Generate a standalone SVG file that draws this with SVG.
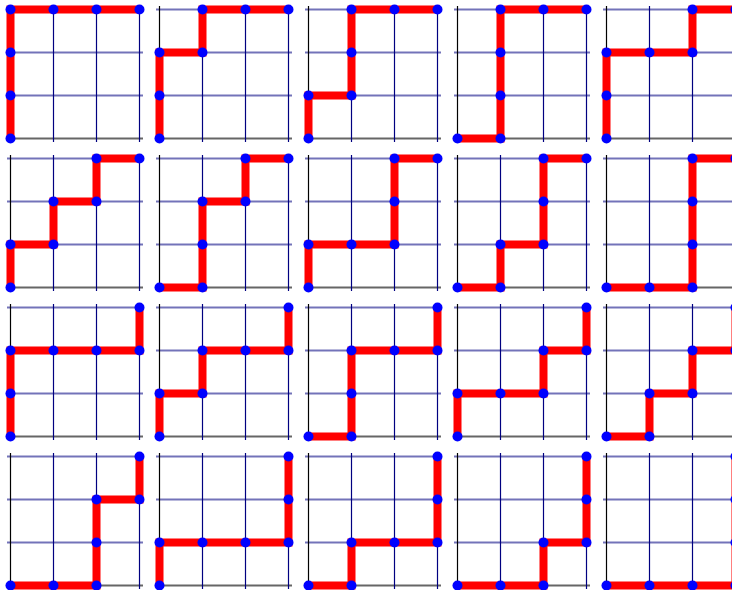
<svg xmlns="http://www.w3.org/2000/svg" xmlns:xlink="http://www.w3.org/1999/xlink" width="732" height="590" viewBox="0 0 732 590">
<style>
.h{stroke:#000080;stroke-opacity:0.55;stroke-width:2}
.hb{stroke:#666666;stroke-width:2}
.v{stroke:#000080;stroke-width:1.2}
.v0{stroke:#000000;stroke-width:1.2}
.p{fill:none;stroke:#ff0000;stroke-width:8;stroke-linejoin:miter}
.d{fill:#0000ff}
</style>
<defs>
<g id="grid">
<line class="h" x1="-3.5" y1="0" x2="132.5" y2="0"/>
<line class="h" x1="-3.5" y1="43" x2="132.5" y2="43"/>
<line class="h" x1="-3.5" y1="86" x2="132.5" y2="86"/>
<line class="hb" x1="-3.5" y1="129" x2="132.5" y2="129"/>
<line class="v0" x1="0" y1="-3.5" x2="0" y2="132.5"/>
<line class="v" x1="43" y1="-3.5" x2="43" y2="132.5"/>
<line class="v" x1="86" y1="-3.5" x2="86" y2="132.5"/>
<line class="v" x1="129" y1="-3.5" x2="129" y2="132.5"/>
</g>
</defs>
<g id="p1" transform="translate(10.5,9.5)"><use xlink:href="#grid"/><polyline class="p" points="0,129 0,86 0,43 0,0 43,0 86,0 129,0"/><g class="d"><circle cx="0" cy="129" r="5"/><circle cx="0" cy="86" r="5"/><circle cx="0" cy="43" r="5"/><circle cx="0" cy="0" r="5"/><circle cx="43" cy="0" r="5"/><circle cx="86" cy="0" r="5"/><circle cx="129" cy="0" r="5"/></g></g>
<g id="p2" transform="translate(159.5,9.5)"><use xlink:href="#grid"/><polyline class="p" points="0,129 0,86 0,43 43,43 43,0 86,0 129,0"/><g class="d"><circle cx="0" cy="129" r="5"/><circle cx="0" cy="86" r="5"/><circle cx="0" cy="43" r="5"/><circle cx="43" cy="43" r="5"/><circle cx="43" cy="0" r="5"/><circle cx="86" cy="0" r="5"/><circle cx="129" cy="0" r="5"/></g></g>
<g id="p3" transform="translate(308.5,9.5)"><use xlink:href="#grid"/><polyline class="p" points="0,129 0,86 43,86 43,43 43,0 86,0 129,0"/><g class="d"><circle cx="0" cy="129" r="5"/><circle cx="0" cy="86" r="5"/><circle cx="43" cy="86" r="5"/><circle cx="43" cy="43" r="5"/><circle cx="43" cy="0" r="5"/><circle cx="86" cy="0" r="5"/><circle cx="129" cy="0" r="5"/></g></g>
<g id="p4" transform="translate(457.5,9.5)"><use xlink:href="#grid"/><polyline class="p" points="0,129 43,129 43,86 43,43 43,0 86,0 129,0"/><g class="d"><circle cx="0" cy="129" r="5"/><circle cx="43" cy="129" r="5"/><circle cx="43" cy="86" r="5"/><circle cx="43" cy="43" r="5"/><circle cx="43" cy="0" r="5"/><circle cx="86" cy="0" r="5"/><circle cx="129" cy="0" r="5"/></g></g>
<g id="p5" transform="translate(606.5,9.5)"><use xlink:href="#grid"/><polyline class="p" points="0,129 0,86 0,43 43,43 86,43 86,0 129,0"/><g class="d"><circle cx="0" cy="129" r="5"/><circle cx="0" cy="86" r="5"/><circle cx="0" cy="43" r="5"/><circle cx="43" cy="43" r="5"/><circle cx="86" cy="43" r="5"/><circle cx="86" cy="0" r="5"/><circle cx="129" cy="0" r="5"/></g></g>
<g id="p6" transform="translate(10.5,158.5)"><use xlink:href="#grid"/><polyline class="p" points="0,129 0,86 43,86 43,43 86,43 86,0 129,0"/><g class="d"><circle cx="0" cy="129" r="5"/><circle cx="0" cy="86" r="5"/><circle cx="43" cy="86" r="5"/><circle cx="43" cy="43" r="5"/><circle cx="86" cy="43" r="5"/><circle cx="86" cy="0" r="5"/><circle cx="129" cy="0" r="5"/></g></g>
<g id="p7" transform="translate(159.5,158.5)"><use xlink:href="#grid"/><polyline class="p" points="0,129 43,129 43,86 43,43 86,43 86,0 129,0"/><g class="d"><circle cx="0" cy="129" r="5"/><circle cx="43" cy="129" r="5"/><circle cx="43" cy="86" r="5"/><circle cx="43" cy="43" r="5"/><circle cx="86" cy="43" r="5"/><circle cx="86" cy="0" r="5"/><circle cx="129" cy="0" r="5"/></g></g>
<g id="p8" transform="translate(308.5,158.5)"><use xlink:href="#grid"/><polyline class="p" points="0,129 0,86 43,86 86,86 86,43 86,0 129,0"/><g class="d"><circle cx="0" cy="129" r="5"/><circle cx="0" cy="86" r="5"/><circle cx="43" cy="86" r="5"/><circle cx="86" cy="86" r="5"/><circle cx="86" cy="43" r="5"/><circle cx="86" cy="0" r="5"/><circle cx="129" cy="0" r="5"/></g></g>
<g id="p9" transform="translate(457.5,158.5)"><use xlink:href="#grid"/><polyline class="p" points="0,129 43,129 43,86 86,86 86,43 86,0 129,0"/><g class="d"><circle cx="0" cy="129" r="5"/><circle cx="43" cy="129" r="5"/><circle cx="43" cy="86" r="5"/><circle cx="86" cy="86" r="5"/><circle cx="86" cy="43" r="5"/><circle cx="86" cy="0" r="5"/><circle cx="129" cy="0" r="5"/></g></g>
<g id="p10" transform="translate(606.5,158.5)"><use xlink:href="#grid"/><polyline class="p" points="0,129 43,129 86,129 86,86 86,43 86,0 129,0"/><g class="d"><circle cx="0" cy="129" r="5"/><circle cx="43" cy="129" r="5"/><circle cx="86" cy="129" r="5"/><circle cx="86" cy="86" r="5"/><circle cx="86" cy="43" r="5"/><circle cx="86" cy="0" r="5"/><circle cx="129" cy="0" r="5"/></g></g>
<g id="p11" transform="translate(10.5,307.5)"><use xlink:href="#grid"/><polyline class="p" points="0,129 0,86 0,43 43,43 86,43 129,43 129,0"/><g class="d"><circle cx="0" cy="129" r="5"/><circle cx="0" cy="86" r="5"/><circle cx="0" cy="43" r="5"/><circle cx="43" cy="43" r="5"/><circle cx="86" cy="43" r="5"/><circle cx="129" cy="43" r="5"/><circle cx="129" cy="0" r="5"/></g></g>
<g id="p12" transform="translate(159.5,307.5)"><use xlink:href="#grid"/><polyline class="p" points="0,129 0,86 43,86 43,43 86,43 129,43 129,0"/><g class="d"><circle cx="0" cy="129" r="5"/><circle cx="0" cy="86" r="5"/><circle cx="43" cy="86" r="5"/><circle cx="43" cy="43" r="5"/><circle cx="86" cy="43" r="5"/><circle cx="129" cy="43" r="5"/><circle cx="129" cy="0" r="5"/></g></g>
<g id="p13" transform="translate(308.5,307.5)"><use xlink:href="#grid"/><polyline class="p" points="0,129 43,129 43,86 43,43 86,43 129,43 129,0"/><g class="d"><circle cx="0" cy="129" r="5"/><circle cx="43" cy="129" r="5"/><circle cx="43" cy="86" r="5"/><circle cx="43" cy="43" r="5"/><circle cx="86" cy="43" r="5"/><circle cx="129" cy="43" r="5"/><circle cx="129" cy="0" r="5"/></g></g>
<g id="p14" transform="translate(457.5,307.5)"><use xlink:href="#grid"/><polyline class="p" points="0,129 0,86 43,86 86,86 86,43 129,43 129,0"/><g class="d"><circle cx="0" cy="129" r="5"/><circle cx="0" cy="86" r="5"/><circle cx="43" cy="86" r="5"/><circle cx="86" cy="86" r="5"/><circle cx="86" cy="43" r="5"/><circle cx="129" cy="43" r="5"/><circle cx="129" cy="0" r="5"/></g></g>
<g id="p15" transform="translate(606.5,307.5)"><use xlink:href="#grid"/><polyline class="p" points="0,129 43,129 43,86 86,86 86,43 129,43 129,0"/><g class="d"><circle cx="0" cy="129" r="5"/><circle cx="43" cy="129" r="5"/><circle cx="43" cy="86" r="5"/><circle cx="86" cy="86" r="5"/><circle cx="86" cy="43" r="5"/><circle cx="129" cy="43" r="5"/><circle cx="129" cy="0" r="5"/></g></g>
<g id="p16" transform="translate(10.5,456.5)"><use xlink:href="#grid"/><polyline class="p" points="0,129 43,129 86,129 86,86 86,43 129,43 129,0"/><g class="d"><circle cx="0" cy="129" r="5"/><circle cx="43" cy="129" r="5"/><circle cx="86" cy="129" r="5"/><circle cx="86" cy="86" r="5"/><circle cx="86" cy="43" r="5"/><circle cx="129" cy="43" r="5"/><circle cx="129" cy="0" r="5"/></g></g>
<g id="p17" transform="translate(159.5,456.5)"><use xlink:href="#grid"/><polyline class="p" points="0,129 0,86 43,86 86,86 129,86 129,43 129,0"/><g class="d"><circle cx="0" cy="129" r="5"/><circle cx="0" cy="86" r="5"/><circle cx="43" cy="86" r="5"/><circle cx="86" cy="86" r="5"/><circle cx="129" cy="86" r="5"/><circle cx="129" cy="43" r="5"/><circle cx="129" cy="0" r="5"/></g></g>
<g id="p18" transform="translate(308.5,456.5)"><use xlink:href="#grid"/><polyline class="p" points="0,129 43,129 43,86 86,86 129,86 129,43 129,0"/><g class="d"><circle cx="0" cy="129" r="5"/><circle cx="43" cy="129" r="5"/><circle cx="43" cy="86" r="5"/><circle cx="86" cy="86" r="5"/><circle cx="129" cy="86" r="5"/><circle cx="129" cy="43" r="5"/><circle cx="129" cy="0" r="5"/></g></g>
<g id="p19" transform="translate(457.5,456.5)"><use xlink:href="#grid"/><polyline class="p" points="0,129 43,129 86,129 86,86 129,86 129,43 129,0"/><g class="d"><circle cx="0" cy="129" r="5"/><circle cx="43" cy="129" r="5"/><circle cx="86" cy="129" r="5"/><circle cx="86" cy="86" r="5"/><circle cx="129" cy="86" r="5"/><circle cx="129" cy="43" r="5"/><circle cx="129" cy="0" r="5"/></g></g>
<g id="p20" transform="translate(606.5,456.5)"><use xlink:href="#grid"/><polyline class="p" points="0,129 43,129 86,129 129,129 129,86 129,43 129,0"/><g class="d"><circle cx="0" cy="129" r="5"/><circle cx="43" cy="129" r="5"/><circle cx="86" cy="129" r="5"/><circle cx="129" cy="129" r="5"/><circle cx="129" cy="86" r="5"/><circle cx="129" cy="43" r="5"/><circle cx="129" cy="0" r="5"/></g></g>
</svg>
